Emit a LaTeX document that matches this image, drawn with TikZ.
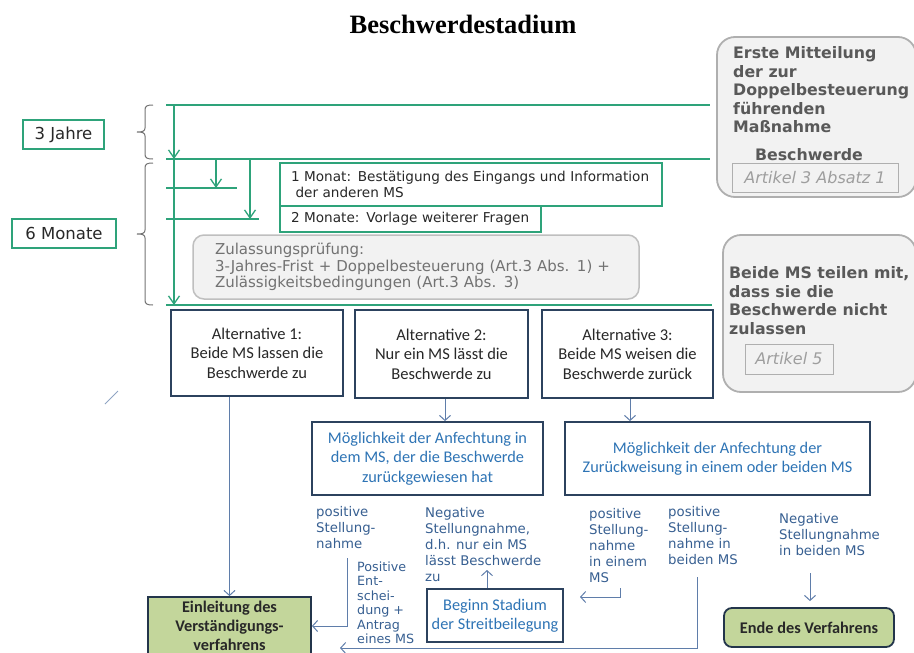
\documentclass[tikz,border=0pt]{standalone}
\usepackage{fontspec}
\setmainfont{DejaVu Sans}
\newfontfamily\calfont{Carlito}
\newfontfamily\titlefont{Liberation Serif}
\usetikzlibrary{arrows.meta}
\definecolor{tealgreen}{RGB}{46,163,122}
\definecolor{darkbord}{RGB}{44,66,94}
\definecolor{bluetxt}{RGB}{46,116,181}
\definecolor{labtxt}{RGB}{55,95,145}
\definecolor{conn}{RGB}{95,125,170}
\definecolor{grayfill}{RGB}{242,242,242}
\definecolor{graybord}{RGB}{175,175,175}
\definecolor{graytxt}{RGB}{89,89,89}
\definecolor{oliv}{RGB}{195,214,155}
\definecolor{bracecol}{RGB}{115,115,115}
\definecolor{darktxt}{RGB}{40,40,40}
\begin{document}
\begin{tikzpicture}[x=1pt,y=-1pt,
  gline/.style={draw=tealgreen,line width=1.3pt},
  garrow/.style={gline,-{Straight Barb[length=8pt,width=11pt]}},
  barrow/.style={draw=conn,line width=1pt,-{Straight Barb[length=5pt,width=11pt]}},
  bline/.style={draw=conn,line width=1pt},
  brace/.style={draw=bracecol,line width=1pt},
  graybox/.style={draw=graybord,fill=grayfill,line width=1.8pt,rounded corners=18pt},
  graybold/.style={font=\bfseries\fontsize{15.8}{18.5}\selectfont,text=graytxt,align=left,inner sep=0pt},
  artbox/.style={draw=graybord,line width=0.8pt,text=graybord!90!black,font=\itshape\fontsize{16}{19}\selectfont},
  greenbox/.style={draw=tealgreen,line width=1.2pt,fill=white,text=darktxt},
  pbox/.style={greenbox,font=\fontsize{16.5}{19}\selectfont},
  mbox/.style={greenbox,font=\fontsize{13.6}{16}\selectfont},
  zulbox/.style={draw=graybord!80,fill=grayfill,line width=1.5pt,rounded corners=11pt,text=graytxt!85,font=\fontsize{15}{16.5}\selectfont},
  altbox/.style={draw=darkbord,line width=1.8pt,fill=white,align=center,text=darktxt,font=\calfont\fontsize{16.5}{19.5}\selectfont},
  mogbox/.style={draw=darkbord,line width=1.8pt,fill=white,align=center,text=bluetxt,font=\calfont\fontsize{16.3}{19.5}\selectfont},
  olivebox/.style={draw=darkbord!80!black,line width=1.8pt,fill=oliv,align=center,text=darktxt,font=\calfont\bfseries\fontsize{16.3}{19}\selectfont},
  lab/.style={text=labtxt,align=left,inner sep=0pt,font=\fontsize{13.3}{16}\selectfont},
  labsmall/.style={text=labtxt,align=left,inner sep=0pt,font=\fontsize{12.7}{14.5}\selectfont}
]
\useasboundingbox (0,0) rectangle (914,653);
\node[font=\titlefont\bfseries\fontsize{26.5}{30}\selectfont] (title) at (463,24) {Beschwerdestadium};

% right gray boxes
\node[graybox,minimum width=199pt,minimum height=160pt] (erste) at (816.5,117) {};
\node[graybold,anchor=west] (erstetxt) at (733,90) {Erste Mitteilung\\der zur\\Doppelbesteuerung\\führenden\\Maßnahme};
\node[graybold] (beschw) at (809,155) {Beschwerde};
\node[artbox,minimum width=166pt,minimum height=29pt] (art31) at (815,177.5) {Artikel 3 Absatz 1};
\node[graybox,minimum width=193pt,minimum height=157pt] (beide) at (819.5,313.5) {};
\node[graybold,anchor=west] (beidetxt) at (729,300.5) {Beide MS teilen mit,\\dass sie die\\Beschwerde nicht\\zulassen};
\node[artbox,minimum width=88pt,minimum height=30pt] (art5) at (789,359) {Artikel 5};

% period boxes
\node[pbox,minimum width=81pt,minimum height=29pt] (jahre) at (63.5,134.5) {3 Jahre};
\node[pbox,minimum width=104pt,minimum height=29pt] (monate) at (64,233.5) {6 Monate};

% braces
\draw[brace] (153,105) .. controls (147,105) and (145,106) .. (145,110) -- (145,128)
  .. controls (145,131) and (143,132) .. (137,132) .. controls (143,132) and (145,133) .. (145,136)
  -- (145,154) .. controls (145,158) and (147,159) .. (153,159);
\draw[brace] (153,163) .. controls (147,163) and (145,164) .. (145,168) -- (145,230)
  .. controls (145,233) and (143,234) .. (137,234) .. controls (143,234) and (145,235) .. (145,238)
  -- (145,300) .. controls (145,304) and (147,305) .. (153,305);

% timeline
\coordinate (tA0) at (166,105); \coordinate (tA1) at (710,105);
\coordinate (tB0) at (166,159); \coordinate (tB1) at (710,159);
\coordinate (tC0) at (166,188); \coordinate (tC1) at (237,188);
\coordinate (tD0) at (166,219); \coordinate (tD1) at (259,219);
\coordinate (tE0) at (166,305); \coordinate (tE1) at (712,305);
\draw[gline] (tA0) -- (tA1);
\draw[gline] (tB0) -- (tB1);
\draw[gline] (tC0) -- (tC1);
\draw[gline] (tD0) -- (tD1);
\draw[gline] (tE0) -- (tE1);
\draw[garrow] (tA0 -| 174,0) -- (tB0 -| 174,0);
\draw[garrow] (tB0 -| 174,0) -- (tE0 -| 174,0);
\draw[garrow] (tB0 -| 216,0) -- (tC0 -| 216,0);
\draw[garrow] (tB0 -| 250,0) -- (tD0 -| 250,0);

% month boxes
\node[mbox,align=left,text width=360pt,inner xsep=11pt,inner ysep=0pt,minimum height=43pt] (monat1) at (471,184.5) {1 Monat: Bestätigung des Eingangs und Information\\\ der anderen MS};
\node[mbox,align=left,text width=239pt,inner xsep=11pt,inner ysep=0pt,minimum height=26pt] (monat2) at (410.5,219) {2 Monate: Vorlage weiterer Fragen};
\node[zulbox,align=left,text width=402pt,inner xsep=22pt,inner ysep=0pt,minimum height=64pt] (zul) at (416,267) {Zulassungsprüfung:\\3-Jahres-Frist + Doppelbesteuerung (Art.3 Abs. 1) +\\Zulässigkeitsbedingungen (Art.3 Abs. 3)};

% alternatives
\node[altbox,minimum width=172pt,minimum height=86pt] (alt1) at (257,353) {Alternative 1:\\Beide MS lassen die\\Beschwerde zu};
\node[altbox,minimum width=173pt,minimum height=88pt] (alt2) at (441.5,354) {Alternative 2:\\Nur ein MS lässt die\\Beschwerde zu};
\node[altbox,minimum width=171pt,minimum height=88pt] (alt3) at (627.5,354) {Alternative 3:\\Beide MS weisen die\\Beschwerde zurück};

\node[mogbox,minimum width=231pt,minimum height=73pt] (mog1) at (427.5,458.5) {Möglichkeit der Anfechtung in\\dem MS, der die Beschwerde\\zurückgewiesen hat};
\node[mogbox,minimum width=305pt,minimum height=73pt] (mog2) at (717.5,458.5) {Möglichkeit der Anfechtung der\\Zurückweisung in einem oder beiden MS};

\node[olivebox,minimum width=163pt,minimum height=58pt] (einl) at (229.5,626) {Einleitung des\\Verständigungs-\\verfahrens};
\node[mogbox,minimum width=136pt,minimum height=53pt] (beginn) at (495,615.5) {Beginn Stadium\\der Streitbeilegung};
\node[olivebox,rounded corners=8pt,minimum width=170pt,minimum height=39pt] (ende) at (809,627.5) {Ende des Verfahrens};

% labels
\node[lab,anchor=west] (pos1) at (316,527.5) {positive\\Stellung-\\nahme};
\node[lab,anchor=west] (neg1) at (425,544.5) {Negative\\Stellungnahme,\\d.h. nur ein MS\\lässt Beschwerde\\zu};
\node[labsmall,anchor=west] (posent) at (357,603) {Positive\\Ent-\\schei-\\dung +\\Antrag\\eines MS};
\node[lab,anchor=west] (pos2) at (589,545.5) {positive\\Stellung-\\nahme\\in einem\\MS};
\node[lab,anchor=west] (pos3) at (668,536) {positive\\Stellung-\\nahme in\\beiden MS};
\node[lab,anchor=west] (neg2) at (779,535) {Negative\\Stellungnahme\\in beiden MS};

% connectors
\draw[barrow] (alt1.south -| einl.north) -- (einl.north);
\draw[barrow] ([xshift=3.5pt]alt2.south) -- ([xshift=3.5pt]alt2.south |- mog1.north);
\draw[barrow] ([xshift=2.5pt]alt3.south) -- ([xshift=2.5pt]alt3.south |- mog2.north);
\coordinate (p1) at (347,558);
\draw[barrow] (p1) |- (einl.east);
\coordinate (bt) at (487,570);
\draw[barrow] (beginn.north -| bt) -- (bt);
\coordinate (p2s) at (620,588); \coordinate (p2e) at (580,597);
\draw[barrow] (p2s) |- (p2e);
\coordinate (p3s) at (697,577); \coordinate (p3e) at (340,648);
\draw[barrow] (p3s) |- (p3e);
\coordinate (n2s) at (810,573);
\draw[barrow,shorten >=6pt] (n2s) -- (n2s |- ende.north);

% stray stroke
\coordinate (s0) at (105,404); \coordinate (s1) at (118,391);
\draw[draw=conn!70,line width=0.9pt] (s0) -- (s1);
\end{tikzpicture}
\end{document}
